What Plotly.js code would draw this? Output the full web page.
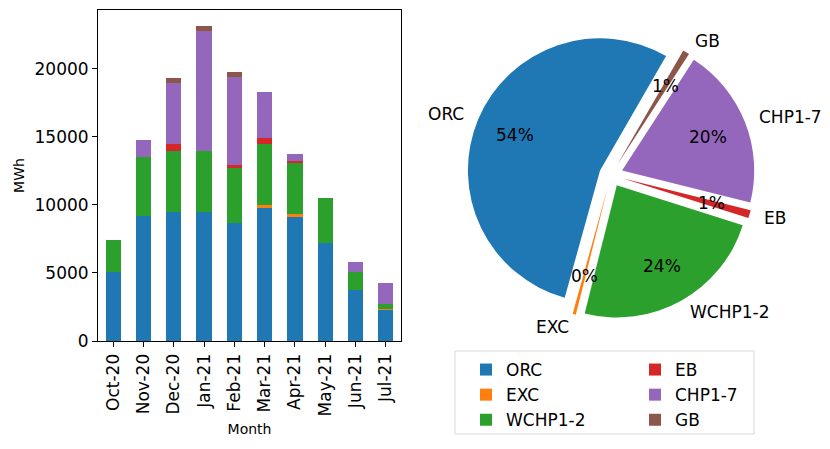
<!DOCTYPE html>
<html>
<head>
<meta charset="utf-8">
<script src="https://cdn.plot.ly/plotly-3.0.1.min.js"></script>
<style>
  html, body { margin: 0; padding: 0; background: #fff; }
  #chart { width: 830px; height: 449px; }
</style>
</head>
<body>
<div id="chart"></div>
<script>
// monthly energy by unit (MWh)
const months = ['Oct-20', 'Nov-20', 'Dec-20', 'Jan-21', 'Feb-21', 'Mar-21', 'Apr-21', 'May-21', 'Jun-21', 'Jul-21'];
const orc  = [5070, 9170, 9490, 9490, 8630, 9780, 9120, 7210, 3730, 2280];
const exc  = [0, 0, 0, 0, 0, 240, 240, 0, 0, 70];
const wchp = [2380, 4340, 4460, 4460, 4090, 4470, 3700, 3260, 1340, 400];
const eb   = [0, 0, 540, 0, 200, 440, 180, 0, 0, 0];
const chp  = [0, 1270, 4460, 8820, 6470, 3330, 460, 0, 710, 1510];
const gb   = [0, 0, 370, 370, 370, 0, 0, 0, 0, 0];
const unitNames = ['ORC', 'EXC', 'WCHP1-2', 'EB', 'CHP1-7', 'GB'];

const series = [orc, exc, wchp, eb, chp, gb];
const colors = ['#1f77b4', '#ff7f0e', '#2ca02c', '#d62728', '#9467bd', '#8c564b'];
const font = 'DejaVu Sans, sans-serif';

const W = 830, H = 449;
const margin = {l: 98, r: 20, t: 10, b: 108};
const plotW = W - margin.l - margin.r;
const plotH = H - margin.t - margin.b;

const pieDomain = {x: [0.518, 0.923], y: [0.0665, 0.9366]};
const pull = 0.09;
const startDeg = 60; // matplotlib-style start angle, counterclockwise

const traces = series.map((vals, i) => ({
    type: 'bar',
    x: months,
    y: vals,
    name: unitNames[i],
    width: 0.5,
    marker: {color: colors[i], line: {width: 0}},
    legend: i < 3 ? 'legend' : 'legend2',
    hoverinfo: 'skip'
}));

const totals = series.map(vals => vals.reduce((a, b) => a + b, 0));
const grand = totals.reduce((a, b) => a + b, 0);

// plotly's counterclockwise mode lays the first slice clockwise from 'rotation'
const firstSweep = totals[0] / grand * 360;

traces.push({
    type: 'pie',
    labels: unitNames,
    values: totals,
    sort: false,
    direction: 'counterclockwise',
    rotation: 90 - startDeg - firstSweep,
    pull: unitNames.map(() => pull),
    marker: {colors: colors, line: {width: 0}},
    textinfo: 'none',
    hoverinfo: 'skip',
    showlegend: false,
    domain: pieDomain
});

// pie geometry in pixels, to place matplotlib-like labels
const domW = (pieDomain.x[1] - pieDomain.x[0]) * plotW;
const domH = (pieDomain.y[1] - pieDomain.y[0]) * plotH;
const cx = margin.l + (pieDomain.x[0] + pieDomain.x[1]) / 2 * plotW;
const cy = margin.t + plotH - (pieDomain.y[0] + pieDomain.y[1]) / 2 * plotH;
const rad = Math.min(domW, domH) / (2 + 2 * pull);

const annotations = [];
let acc = 0;
totals.forEach((v, i) => {
    const frac = v / grand;
    const mid = (startDeg + (acc + frac / 2) * 360) * Math.PI / 180;
    acc += frac;
    const ux = Math.cos(mid), uy = Math.sin(mid);
    const toPaper = (d) => ({
        x: (cx + ux * (pull * rad + d) - margin.l) / plotW,
        y: (margin.t + plotH - (cy - uy * (pull * rad + d))) / plotH
    });
    const pct = toPaper(0.7 * rad);
    annotations.push({
        xref: 'paper', yref: 'paper', x: pct.x, y: pct.y,
        text: Math.round(frac * 100) + '%', showarrow: false,
        xanchor: 'center', yanchor: 'middle',
        font: {family: font, size: 17, color: '#000'}
    });
    const lab = toPaper(1.1 * rad);
    annotations.push({
        xref: 'paper', yref: 'paper', x: lab.x, y: lab.y,
        text: unitNames[i], showarrow: false,
        xanchor: ux > 0 ? 'left' : 'right', yanchor: 'middle',
        font: {family: font, size: 17, color: '#000'}
    });
});

const toPX = (px) => (px - margin.l) / plotW;
const toPY = (py) => (margin.t + plotH - py) / plotH;

const legendBase = {
    orientation: 'v',
    yanchor: 'top',
    xanchor: 'left',
    bgcolor: 'rgba(0,0,0,0)',
    borderwidth: 0,
    font: {family: font, size: 17, color: '#000'},
    traceorder: 'normal',
    itemclick: false
};

const layout = {
    width: W,
    height: H,
    margin: margin,
    paper_bgcolor: '#fff',
    plot_bgcolor: '#fff',
    font: {family: font, color: '#000'},
    barmode: 'stack',
    bargap: 0,
    xaxis: {
        domain: [0, (401 - margin.l) / plotW],
        range: [-0.5, 9.5],
        tickangle: -90,
        ticks: 'outside',
        ticklen: 5,
        tickcolor: '#000',
        showline: true,
        mirror: true,
        linecolor: '#000',
        linewidth: 1,
        showgrid: false,
        zeroline: false,
        tickfont: {family: font, size: 17, color: '#000'},
        title: {text: 'Month', font: {family: font, size: 14, color: '#000'}, standoff: 8}
    },
    yaxis: {
        range: [0, 24300],
        tickvals: [0, 5000, 10000, 15000, 20000],
        ticktext: ['0', '5000', '10000', '15000', '20000'],
        ticks: 'outside',
        ticklen: 5,
        tickcolor: '#000',
        showline: true,
        mirror: true,
        linecolor: '#000',
        linewidth: 1,
        showgrid: false,
        zeroline: false,
        tickfont: {family: font, size: 17, color: '#000'},
        title: {text: 'MWh', font: {family: font, size: 14, color: '#000'}, standoff: 6}
    },
    legend: Object.assign({}, legendBase, {x: toPX(466), y: toPY(352)}),
    legend2: Object.assign({}, legendBase, {x: toPX(635), y: toPY(352)}),
    shapes: [{
        type: 'rect', xref: 'paper', yref: 'paper',
        x0: toPX(455), x1: toPX(754), y0: toPY(351), y1: toPY(434),
        line: {color: '#d9d9d9', width: 1}
    }],
    annotations: annotations
};

Plotly.newPlot('chart', traces, layout, {displayModeBar: false, staticPlot: true});
</script>
</body>
</html>
